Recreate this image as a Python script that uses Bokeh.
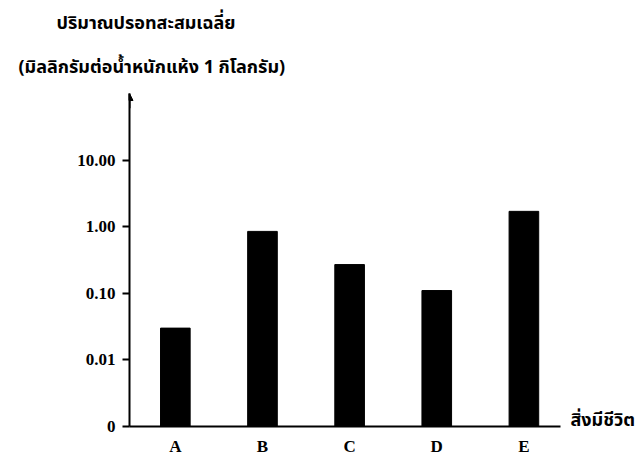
from bokeh.plotting import figure
from bokeh.models import (FixedTicker, CustomJSTickFormatter, Arrow, NormalHead, Range1d,
                          Title, LogAxis)
from bokeh.embed import file_html
from bokeh.resources import INLINE

categories = ["A", "B", "C", "D", "E"]
mercury = [0.03, 0.85, 0.27, 0.11, 1.7]
y_ticks = [0.001, 0.01, 0.1, 1, 10]
y_title_lines = ["ปริมาณปรอทสะสมเฉลี่ย", "(มิลลิกรัมต่อน้ำหนักแห้ง 1 กิโลกรัม)"]
x_title = "สิ่งมีชีวิต"

SERIF = "'Liberation Serif', 'Times New Roman', serif"
THAI = "'Noto Sans Thai', 'Noto Sans', 'DejaVu Sans', sans-serif"

xs = list(range(1, len(categories) + 1))
x_range = Range1d(0.474, 5.42)
y_range = Range1d(0.001, 100)

p = figure(width=638, height=458, y_axis_type="log", x_range=x_range, y_range=y_range,
           output_backend="svg", toolbar_location=None,
           min_border_left=129, min_border_right=76, min_border_top=93, min_border_bottom=32)
p.outline_line_color = None
p.grid.visible = False
p.background_fill_color = "white"

p.vbar(x=xs, top=mercury, bottom=y_range.start, width=0.34, fill_color="black", line_color="black")

# y axis
ya = p.yaxis[0]
ya.ticker = FixedTicker(ticks=y_ticks)
ya.formatter = CustomJSTickFormatter(code="return tick < 0.005 ? '0' : tick.toFixed(2);")
ya.axis_line_width = 2
ya.axis_line_color = "black"
ya.major_tick_out = 7
ya.major_tick_in = 0
ya.major_tick_line_width = 2
ya.minor_tick_line_color = None
ya.major_label_text_font = SERIF
ya.major_label_text_font_style = "bold"
ya.major_label_text_font_size = "17px"
ya.major_label_text_color = "black"
ya.major_label_standoff = 7

# x axis
xa = p.xaxis[0]
xa.ticker = FixedTicker(ticks=xs)
xa.major_label_overrides = {x: c for x, c in zip(xs, categories)}
xa.axis_line_width = 2
xa.axis_line_color = "black"
xa.major_tick_line_color = None
xa.major_tick_out = 0
xa.major_tick_in = 0
xa.minor_tick_line_color = None
xa.major_label_text_font = SERIF
xa.major_label_text_font_style = "bold"
xa.major_label_text_font_size = "17px"
xa.major_label_text_color = "black"
xa.major_label_standoff = 10

# arrow on y axis
p.add_layout(Arrow(end=NormalHead(size=7, fill_color="black", line_color="black"),
                   x_start=x_range.start, y_start=y_range.end * 0.6,
                   x_end=x_range.start, y_end=y_range.end, line_width=2, line_color="black"))

# x title: a label-only axis at the right, sitting on the baseline
x_title_level = y_range.start * 1.25
rx = LogAxis(ticker=FixedTicker(ticks=[x_title_level]),
             formatter=CustomJSTickFormatter(code="return %r;" % x_title))
rx.axis_line_color = None
rx.major_tick_line_color = None
rx.major_tick_out = 0
rx.major_tick_in = 0
rx.minor_tick_line_color = None
rx.major_label_standoff = 10
rx.major_label_text_font = THAI
rx.major_label_text_font_style = "bold"
rx.major_label_text_font_size = "18px"
rx.major_label_text_color = "black"
p.add_layout(rx, "right")

# y title (two lines) above the plot; first added sits nearest the frame
offsets = [-73, -111]
standoffs = [4, 26]
for line, off, so in reversed(list(zip(y_title_lines, offsets, standoffs))):
    p.add_layout(Title(text=line, align="left", offset=off, standoff=so, text_font=THAI,
                       text_font_style="bold", text_font_size="18px", text_color="black"),
                 "above")

open("out.html", "w").write(file_html(p, INLINE))
